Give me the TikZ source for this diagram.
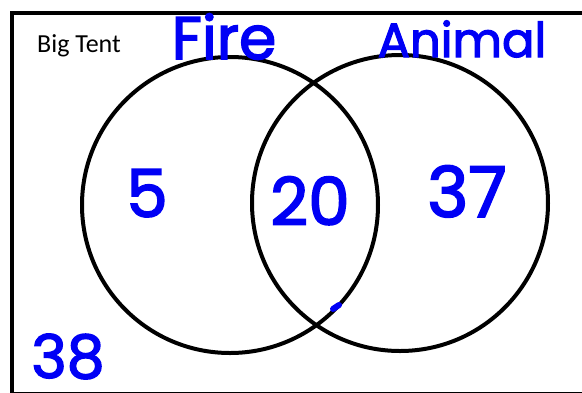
\documentclass[tikz,border=0pt]{standalone}
\usepackage{fontspec}
\setmainfont{Carlito}
\newfontfamily\handfont[FakeBold=2.5]{Poppins}
\usepackage{tikz}
\usetikzlibrary{positioning}
\definecolor{penblue}{RGB}{0,0,245}
\tikzset{
    tent/.style={draw=black, line width=4pt},
    vset/.style={circle, draw=black, line width=4pt, minimum size=296pt, inner sep=0pt},
    hand/.style={text=penblue, inner sep=0pt, anchor=base, text depth=0pt, font=\handfont\fontsize{#1}{#1}\selectfont},
    hand/.default=66,
    plain/.style={inner sep=0pt, anchor=base west, font=\fontsize{26}{30}\selectfont},
}
\begin{document}
\begin{tikzpicture}[x=1pt, y=-1pt]
    \useasboundingbox (0,0) rectangle (582,392);
    % universe
    \draw[tent] (12,12.5) rectangle (600,394);
    \node[plain] (tent) at (37,52) {Big Tent};

    % the two sets
    \node[vset] (fire) at (230,205) {};
    \node[vset] (animal) at (400,203) {};

    % handwritten labels
    \node[hand=60] (firelabel) at (224,59) {Fire};
    \node[hand=48] (animallabel) at (462,57) {Animal};
    \node[hand] (onlyfire) at (147,217) {5};
    \node[hand] (both) at (310,225) {20};
    \node[hand=70] (onlyanimal) at (467,217) {37};
    \node[hand=60] (neither) at (68,378) {38};
    \draw[penblue, line width=6pt, line cap=round] (333,309) -- (339,305);
\end{tikzpicture}
\end{document}
